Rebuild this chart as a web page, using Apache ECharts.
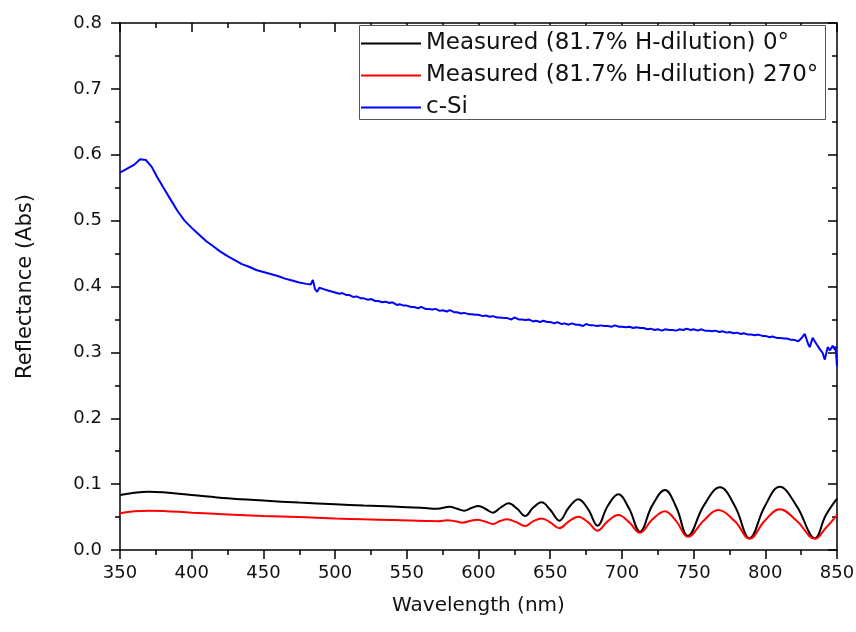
<!DOCTYPE html>
<html>
<head>
<meta charset="utf-8">
<script src="https://cdn.jsdelivr.net/npm/echarts@6/dist/echarts.min.js"></script>
<style>
html,body{margin:0;padding:0;background:#fff;}
#chart{width:856px;height:632px;}
</style>
</head>
<body>
<div id="chart"></div>
<script>
const xTicks = [350, 850, 50];
const yTicks = [0, 0.8, 0.1];
const seriesNames = ['Measured (81.7% H-dilution) 0°', 'Measured (81.7% H-dilution) 270°', 'c-Si'];

const blackWl = [350,360,370,380,400,425,450,475,500,520,540,560,571,580,585,590,595,600,605,610,615.5,621,627,632.5,638,644,650,656.4,663,669.6,676.5,683,690,697.5,705,712.6,721,730,738,746,757,768.4,779,789,799.5,810,822,834.7,842,850];
const blackVal = [0.0835,0.087,0.0885,0.0875,0.0835,0.0785,0.075,0.072,0.0695,0.0675,0.066,0.064,0.0625,0.0655,0.0626,0.0597,0.0637,0.0668,0.0622,0.0567,0.0645,0.0708,0.0625,0.0516,0.064,0.0725,0.061,0.0445,0.0645,0.077,0.0617,0.0369,0.0664,0.0845,0.063,0.0278,0.067,0.091,0.0645,0.0212,0.067,0.0951,0.0657,0.0177,0.0657,0.096,0.0662,0.0177,0.052,0.078];

const redWl = [350,360,370,380,400,425,450,475,500,520,540,564,572,578,584,589,594,599,604.5,610,615,620,626,632.5,638,644,650,656.4,663,669.6,676.5,683,690,697.5,705,712.6,721,730,738,746,757,767,779,789,799.5,810,822,834.7,842,850];
const redVal = [0.0557,0.059,0.0597,0.0593,0.0567,0.054,0.0516,0.050,0.048,0.0465,0.0455,0.044,0.0437,0.0452,0.0437,0.0415,0.0441,0.0458,0.0433,0.0395,0.044,0.0468,0.0426,0.0364,0.0434,0.048,0.042,0.033,0.0436,0.0506,0.042,0.0293,0.0435,0.053,0.0423,0.0263,0.046,0.059,0.0434,0.020,0.0444,0.0607,0.0432,0.017,0.044,0.062,0.044,0.017,0.033,0.053];

// c-Si reflectance: [wavelength nm, value]
const siData = [
[350,0.573],[355,0.579],[360,0.585],[364,0.593],[368,0.592],[372,0.582],[376,0.566],[380,0.551],[385,0.533],[390,0.515],
[395,0.500],[400,0.489],[405,0.479],[410,0.469],[415,0.461],[420,0.453],[425,0.446],[430,0.440],[435,0.434],[440,0.430],
[445,0.425],[450,0.422],[455,0.419],[460,0.416],[465,0.412],[470,0.409],[475,0.406],[480,0.404],[483,0.403],[484.5,0.410],
[486,0.396],[487.5,0.392],[489,0.398],[492,0.396],[495,0.394],
[500,0.391],[503,0.389],[505,0.390],[508,0.387],[510,0.387],[513,0.384],[515,0.385],[518,0.382],[520,0.382],[523,0.380],
[525,0.381],[528,0.378],[530,0.378],[533,0.376],[535,0.377],[538,0.375],[540,0.376],[543,0.372],[545,0.373],[548,0.371],
[550,0.371],[553,0.369],[555,0.369],[558,0.367],[560,0.369],[563,0.366],[565,0.366],[568,0.365],[570,0.366],[573,0.363],
[575,0.364],[578,0.362],[580,0.364],[583,0.361],[585,0.361],[588,0.359],[590,0.360],[593,0.358],[595,0.358],[598,0.357],
[600,0.357],[603,0.355],[605,0.356],[608,0.354],[610,0.355],[613,0.353],[615,0.353],[618,0.352],[620,0.352],[623,0.350],
[625,0.353],[628,0.350],[630,0.350],[633,0.349],[635,0.350],[638,0.347],[640,0.348],[643,0.346],[645,0.348],[648,0.346],
[650,0.346],[653,0.344],[655,0.346],[658,0.343],[660,0.344],[663,0.342],[665,0.344],[668,0.342],[670,0.342],[673,0.340],
[675,0.343],[678,0.341],[680,0.341],[683,0.340],[685,0.341],[688,0.340],[690,0.340],[693,0.339],[695,0.341],[698,0.339],
[700,0.339],[703,0.338],[705,0.339],[708,0.337],[710,0.338],[713,0.337],[715,0.337],[718,0.335],[720,0.336],[723,0.334],
[725,0.335],[728,0.333],[730,0.335],[733,0.334],[735,0.334],[738,0.333],[740,0.335],[743,0.334],[745,0.336],[748,0.334],
[750,0.335],[753,0.333],[755,0.335],[758,0.333],[760,0.333],[763,0.332],[765,0.333],[768,0.331],[770,0.332],[773,0.330],
[775,0.331],[778,0.329],[780,0.330],[783,0.328],[785,0.329],[788,0.327],[790,0.327],[793,0.326],[795,0.327],[798,0.325],
[800,0.325],[803,0.323],[805,0.324],[808,0.322],[810,0.322],[813,0.321],[815,0.321],[818,0.319],[820,0.319],[823,0.317],
[825,0.321],[827.5,0.328],[830,0.312],[831,0.308],[833,0.322],[835,0.315],[838,0.305],[840,0.299],[841.5,0.289],[843.5,0.308],
[845,0.303],[847,0.310],[848.5,0.304],[849,0.309],[850,0.279]
];

function pairs(xs, ys){ return xs.map((x,i)=>[x, ys[i]]); }

const FONT = 'DejaVu Sans';
const AX = '#000';

function xAxisBase(extra){
  return Object.assign({
    type:'value', min:xTicks[0], max:xTicks[1], interval:xTicks[2],
    axisLine:{show:true, onZero:false, lineStyle:{color:AX, width:1.5}},
    axisTick:{show:true, length:9, lineStyle:{color:AX, width:1.5}},
    minorTick:{show:true, splitNumber:2, length:5, lineStyle:{color:AX, width:1.5}},
    splitLine:{show:false}, minorSplitLine:{show:false}
  }, extra);
}
function yAxisBase(extra){
  return Object.assign({
    type:'value', min:yTicks[0], max:yTicks[1], interval:yTicks[2],
    axisLine:{show:true, onZero:false, lineStyle:{color:AX, width:1.5}},
    axisTick:{show:true, length:9, lineStyle:{color:AX, width:1.5}},
    minorTick:{show:true, splitNumber:2, length:5, lineStyle:{color:AX, width:1.5}},
    splitLine:{show:false}, minorSplitLine:{show:false}
  }, extra);
}

const chart = echarts.init(document.getElementById('chart'), null, {renderer:'canvas'});
chart.setOption({
  animation:false,
  backgroundColor:'#fff',
  grid:{left:120, right:19, top:23, bottom:82, containLabel:false, outerBoundsMode:'none'},
  xAxis:[
    xAxisBase({position:'bottom',
      axisLabel:{fontFamily:FONT, fontSize:18, color:'#111', margin:14},
      name:'Wavelength (nm)', nameLocation:'middle', nameGap:46,
      nameTextStyle:{fontFamily:FONT, fontSize:20, color:'#111'}}),
    xAxisBase({position:'top', axisLabel:{show:false},
      axisTick:{show:true, inside:true, length:9, lineStyle:{color:AX, width:1.5}},
      minorTick:{show:true, splitNumber:2, length:5, lineStyle:{color:AX, width:1.5}}})
  ],
  yAxis:[
    yAxisBase({position:'left',
      axisLabel:{fontFamily:FONT, fontSize:18, color:'#111', margin:18, formatter:v=>v.toFixed(1)},
      name:'Reflectance (Abs)', nameLocation:'middle', nameGap:84,
      nameTextStyle:{fontFamily:FONT, fontSize:21, color:'#111'}}),
    yAxisBase({position:'right', axisLabel:{show:false},
      axisTick:{show:true, inside:true, length:9, lineStyle:{color:AX, width:1.5}},
      minorTick:{show:true, splitNumber:2, length:5, lineStyle:{color:AX, width:1.5}}})
  ],
  graphic:[{type:'rect', z:3, shape:{x:359.5, y:25.5, width:466, height:94},
    style:{fill:'#fff', stroke:'#555', lineWidth:1}}],
  legend:{
    show:true, orient:'vertical', left:361, top:32, z:5,
    itemWidth:60, itemHeight:2, itemGap:9, padding:0,
    icon:'rect',
    textStyle:{fontFamily:FONT, fontSize:23, lineHeight:22, color:'#111'},
    data:seriesNames
  },
  series:[
    {name:seriesNames[0], type:'line', xAxisIndex:0, yAxisIndex:0, data:pairs(blackWl, blackVal),
      showSymbol:false, smooth:0.4, color:'#000', lineStyle:{color:'#000', width:2}},
    {name:seriesNames[1], type:'line', xAxisIndex:0, yAxisIndex:0, data:pairs(redWl, redVal),
      showSymbol:false, smooth:0.4, color:'#ff0000', lineStyle:{color:'#ff0000', width:2}},
    {name:seriesNames[2], type:'line', xAxisIndex:0, yAxisIndex:0, data:siData,
      showSymbol:false, smooth:false, color:'#0000ff', lineStyle:{color:'#0000ff', width:2}}
  ]
});
</script>
</body>
</html>
